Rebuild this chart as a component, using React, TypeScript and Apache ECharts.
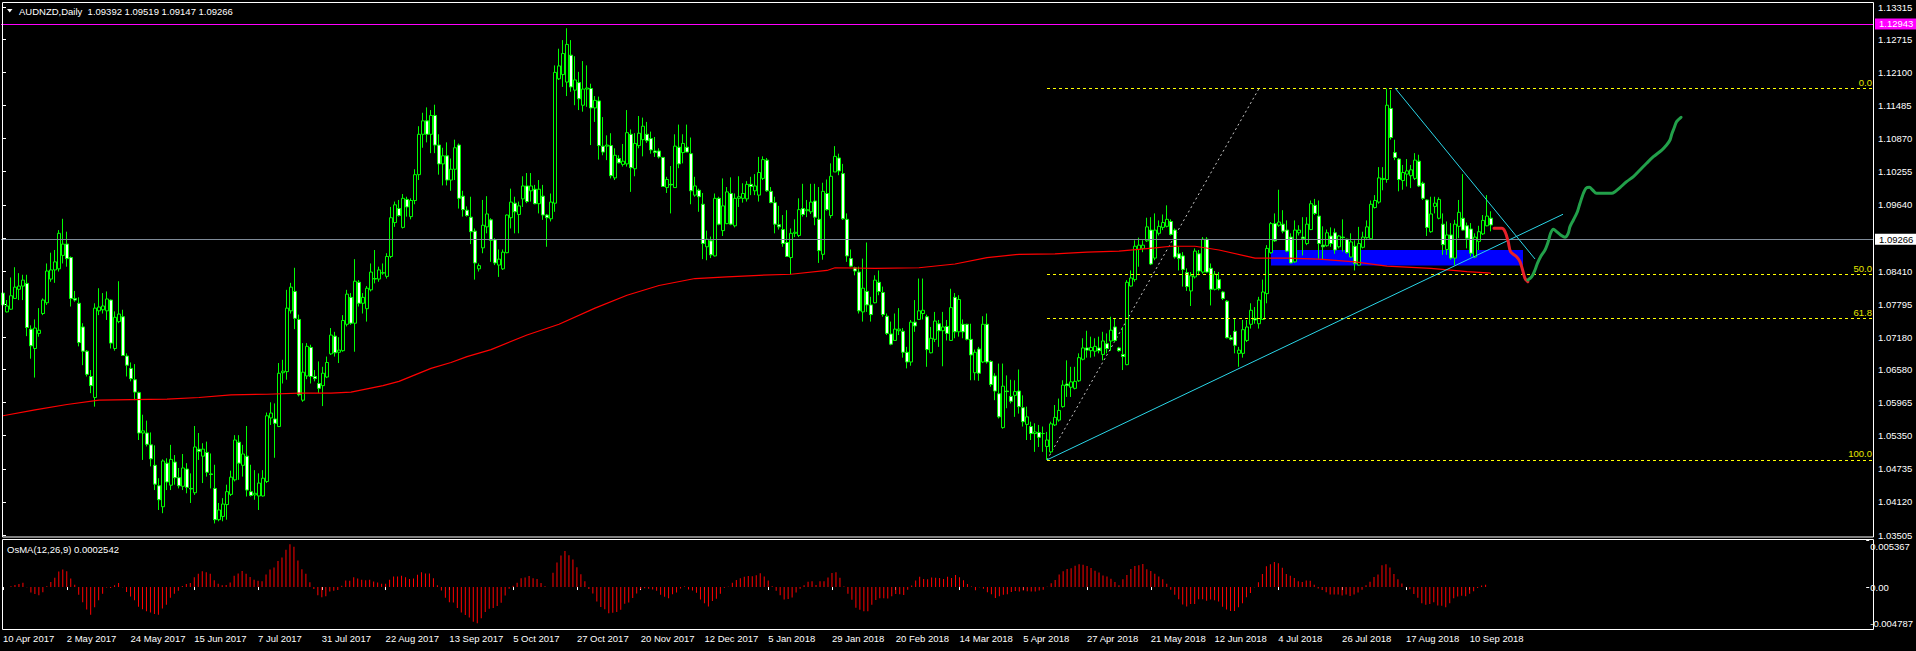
import React, { useEffect, useRef } from 'react';
import * as echarts from 'echarts';

// ---------- data (prices in units of 0.0001) ----------
const opens = [
  10800,10765,10770,10790,10807,10813,10818,10733,10697,10725,
  10762,10782,10826,10843,10845,10870,10891,10866,10790,10781,
  10737,10692,10645,10606,10767,10769,10767,10787,10697,10747,
  10756,10683,10660,10639,10615,10540,10540,10518,10480,10442,
  10403,10484,10443,10486,10457,10441,10473,10437,10429,10510,
  10497,10504,10464,10437,10379,10385,10407,10426,10453,10523,
  10480,10497,10431,10425,10423,10423,10450,10568,10566,10552,
  10652,10654,10767,10803,10751,10601,10646,10699,10645,10632,
  10628,10644,10687,10720,10690,10693,10742,10792,10744,10820,
  10781,10771,10806,10827,10826,10837,10831,10868,10931,10957,
  10922,10974,10942,10972,11020,11095,11120,11095,11130,11075,
  11040,11055,11010,11030,11075,10980,10954,10941,10915,10845,
  10884,10923,10936,10899,10852,10845,10875,10940,10967,10946,
  10975,10999,10990,10993,10966,10980,10945,10938,10967,11198,
  11206,11192,11242,11177,11191,11149,11179,11180,11144,11157,
  11073,11073,11074,11014,11050,11039,11040,11095,11031,11074,
  11085,11095,11087,11064,11064,11052,10996,11002,10996,11071,
  11061,11071,11059,10982,10991,10965,10886,10897,10869,10976,
  10916,10929,10985,10925,10976,10976,10975,11002,10990,10982,
  11013,11047,10989,10968,10927,10918,10894,10866,10911,10907,
  10957,10953,10951,10971,10937,10872,10985,10944,11025,11051,
  11022,10937,10864,10847,10839,10765,10803,10778,10782,10820,
  10801,10757,10724,10712,10730,10729,10690,10672,10746,10751,
  10762,10756,10689,10714,10743,10730,10738,10712,10792,10728,
  10742,10742,10714,10652,10696,10672,10742,10673,10646,10613,
  10550,10618,10608,10610,10618,10587,10556,10552,10539,10541,
  10539,10515,10505,10555,10564,10589,10631,10625,10623,10637,
  10677,10698,10693,10692,10698,10686,10706,10711,10737,10698,
  10686,10667,10813,10825,10881,10883,10897,10917,10865,10911,
  10922,10924,10933,10917,10873,10869,10838,10804,10830,10873,
  10839,10900,10846,10807,10825,10802,10785,10717,10729,10688,
  10688,10712,10742,10753,10743,10751,10799,10875,10929,10926,
  10928,10917,10904,10858,10912,10904,10892,10918,10963,10943,
  10889,10888,10906,10912,10886,10904,10900,10867,10887,10852,
  10885,10903,10901,10959,10969,11011,11011,11143,11061,11049,
  11009,11021,11018,11013,11045,11004,10973,10914,10961,10939,
  10928,10881,10908,10865,10924,10939,10925,10919,10867,10896,
  10910,10925,10939.2,
];
const highs = [
  10834,10787,10829,10848,10837,10834,10834,10740,10751,10772,
  10790,10855,10875,10880,10917,10938,10914,10868,10804,10792,
  10744,10694,10657,10781,10809,10800,10803,10788,10766,10822,
  10769,10688,10671,10668,10617,10574,10563,10541,10517,10456,
  10491,10493,10518,10499,10475,10501,10484,10465,10553,10540,
  10521,10524,10502,10481,10410,10419,10444,10470,10536,10536,
  10518,10553,10481,10471,10465,10471,10578,10597,10595,10670,
  10676,10806,10819,10847,10760,10707,10707,10704,10657,10673,
  10663,10682,10735,10728,10718,10759,10806,10800,10863,10824,
  10800,10813,10855,10880,10849,10855,10874,10960,10970,10973,
  10984,10979,10976,11030,11110,11135,11145,11140,11150,11095,
  11070,11080,11050,11085,11078,10990,10961,10979,10920,10855,
  10973,10980,10939,10902,10881,10881,10946,10994,10979,10970,
  11017,11023,11023,11001,11010,11001,10947,10985,11223,11254,
  11270,11292,11270,11240,11211,11231,11223,11189,11166,11165,
  11127,11093,11097,11069,11056,11077,11140,11104,11097,11129,
  11126,11118,11100,11090,11069,11053,11016,11036,11095,11113,
  11095,11113,11089,11016,10994,10986,10916,10905,10985,10979,
  11013,10997,11015,10985,11017,11004,11008,11016,11021,11053,
  11054,11051,10997,10979,10962,10945,10954,10920,10937,10976,
  11003,10973,11003,11003,10997,11005,11011,11041,11073,11059,
  11040,10948,10881,10849,10849,10864,10894,10793,10833,10842,
  10812,10762,10747,10762,10772,10735,10700,10750,10787,10827,
  10827,10760,10737,10765,10750,10765,10750,10808,10800,10796,
  10751,10743,10743,10695,10700,10757,10762,10675,10651,10669,
  10669,10647,10639,10638,10658,10610,10589,10561,10558,10555,
  10552,10542,10561,10592,10604,10638,10675,10663,10663,10688,
  10716,10730,10719,10716,10719,10728,10725,10756,10753,10700,
  10737,10824,10842,10898,10903,10898,10940,10941,10948,10935,
  10946,10963,10937,10920,10886,10876,10846,10839,10883,10880,
  10904,10904,10855,10841,10839,10804,10787,10722,10753,10700,
  10750,10750,10781,10774,10793,10825,10889,10932,10948,10992,
  10954,10935,10911,10935,10926,10941,10941,10972,10975,10972,
  10924,10918,10922,10920,10908,10937,10901,10911,10898,10923,
  10914,10935,10972,10982,11034,11034,11180,11177,11085,11051,
  11038,11049,11038,11060,11057,11007,10974,10979,10979,10978,
  10948,10933,10930,10936,10973,11021,10931,10930,10911,10925,
  10945,10982,10951.9,
];
const lows = [
  10766,10764,10769,10789,10787,10787,10720,10678,10643,10719,
  10759,10778,10821,10819,10840,10855,10849,10775,10784,10701,
  10666,10645,10614,10589,10759,10762,10750,10697,10693,10744,
  10683,10645,10636,10601,10527,10490,10515,10478,10434,10397,
  10391,10434,10434,10444,10437,10434,10428,10410,10425,10490,
  10447,10459,10437,10372,10376,10376,10379,10423,10450,10453,
  10459,10422,10422,10416,10397,10422,10447,10555,10494,10551,
  10632,10639,10762,10733,10608,10598,10640,10632,10636,10614,
  10590,10642,10685,10682,10670,10691,10738,10741,10691,10775,
  10762,10747,10803,10818,10821,10834,10827,10865,10923,10942,
  10920,10942,10937,10965,11010,11070,11080,11060,11060,11020,
  11000,11000,10990,11010,10957,10942,10942,10891,10825,10840,
  10874,10911,10858,10852,10830,10843,10874,10920,10911,10911,
  10960,10967,10970,10965,10948,10936,10886,10933,10951,11196,
  11183,11166,11174,11149,11140,11137,11146,11075,11118,11048,
  11056,11047,11013,11010,11041,11035,11035,10988,11017,11069,
  11054,11079,11059,11053,11050,10998,10986,10948,10996,11032,
  11041,11062,10965,10979,10951,10863,10861,10865,10868,10926,
  10906,10928,10926,10922,10960,10968,10970,10982,10982,10970,
  11010,10988,10967,10911,10918,10886,10868,10835,10904,10904,
  10942,10941,10947,10926,10856,10862,10953,10939,11025,11019,
  10936,10858,10848,10833,10762,10747,10765,10747,10781,10796,
  10756,10722,10703,10712,10722,10680,10660,10665,10728,10751,
  10751,10663,10688,10709,10700,10664,10712,10711,10716,10719,
  10716,10712,10638,10638,10637,10670,10669,10626,10601,10567,
  10548,10586,10595,10570,10576,10552,10527,10527,10505,10514,
  10505,10490,10502,10553,10561,10587,10607,10607,10621,10635,
  10675,10680,10680,10682,10688,10675,10688,10693,10709,10691,
  10657,10666,10812,10821,10849,10876,10895,10852,10861,10907,
  10917,10922,10907,10864,10842,10812,10804,10776,10827,10833,
  10836,10838,10777,10805,10805,10787,10716,10712,10688,10663,
  10680,10709,10734,10743,10734,10750,10781,10873,10895,10923,
  10911,10876,10855,10856,10907,10870,10889,10917,10945,10864,
  10862,10886,10886,10873,10883,10877,10873,10866,10842,10851,
  10883,10901,10899,10957,10966,10991,11005,11085,11047,10989,
  10992,10998,10995,11010,10997,10973,10906,10912,10948,10937,
  10871,10871,10862,10852,10902,10916,10883,10868,10865,10880,
  10908,10924,10914.7,
];
const closes = [
  10778,10776,10795,10811,10813,10824,10736,10702,10735,10731,
  10787,10841,10843,10858,10911,10891,10864,10790,10787,10708,
  10692,10649,10628,10772,10774,10776,10789,10707,10755,10761,
  10684,10666,10641,10616,10540,10544,10519,10492,10445,10416,
  10488,10449,10491,10457,10442,10475,10439,10436,10514,10506,
  10510,10467,10463,10379,10397,10408,10431,10458,10527,10484,
  10501,10434,10424,10428,10447,10456,10572,10577,10558,10651,
  10655,10772,10811,10753,10611,10653,10701,10645,10641,10623,
  10651,10671,10722,10689,10694,10749,10798,10744,10822,10781,
  10792,10809,10839,10826,10843,10838,10868,10940,10964,10944,
  10976,10960,10972,11020,11095,11120,11095,11130,11075,11040,
  11055,11010,11030,11070,10976,10955,10944,10914,10856,10851,
  10926,10947,10898,10856,10863,10876,10945,10969,10951,10962,
  10999,10970,10999,10966,10993,10945,10940,10969,11210,11222,
  11245,11262,11183,11196,11161,11179,11181,11144,11158,11074,
  11062,11075,11018,11056,11042,11045,11098,11033,11078,11097,
  11110,11083,11066,11061,11053,10998,11011,11001,11073,11040,
  11078,11062,10990,10999,10979,10892,10900,10871,10976,10928,
  10962,10988,10928,10976,10979,10985,11002,10998,10999,11024,
  11048,10990,10968,10928,10923,10892,10868,10911,10913,10955,
  10946,10955,10969,10941,10879,10989,10955,11017,11054,11027,
  10938,10869,10850,10841,10767,10809,10778,10760,10824,10803,
  10760,10725,10705,10733,10733,10690,10672,10746,10739,10767,
  10768,10695,10716,10748,10730,10737,10725,10773,10728,10788,
  10728,10714,10685,10690,10651,10742,10672,10630,10618,10570,
  10627,10617,10599,10617,10589,10561,10570,10539,10542,10532,
  10539,10527,10557,10569,10582,10629,10628,10635,10636,10680,
  10698,10694,10699,10701,10693,10711,10697,10731,10712,10693,
  10682,10820,10828,10887,10889,10889,10923,10854,10917,10924,
  10931,10937,10909,10867,10864,10844,10812,10832,10878,10841,
  10900,10839,10807,10835,10808,10790,10717,10714,10703,10694,
  10732,10737,10768,10750,10787,10802,10883,10929,10897,10932,
  10915,10878,10856,10917,10917,10901,10928,10966,10948,10892,
  10886,10912,10892,10880,10906,10903,10875,10895,10855,10892,
  10904,10923,10965,10972,11014,11013,11149,11089,11052,11011,
  11024,11027,11029,11047,10999,10976,10922,10947,10967,10974,
  10890,10908,10865,10928,10950,10917,10902,10874,10904,10914,
  10935,10943,10926.6,
];

// 200-period SMA: bar index -> value (0.0001 units)
const smaBars = [0,8,16,24,32,41,49,57,66,74,82,87,91,95,99,103,107,112,116,122,131,139,148,156,164,173,181,189,197,206,208,218,229,238,246,254,263,271,279,288,292,298,304,313,321,329,338,346,357,366,372];
const smaVals = [10572,10583,10593,10601,10602,10603,10606,10611,10612,10614,10614,10616,10622,10628,10636,10648,10660,10671,10682,10695,10722,10742,10772,10796,10814,10827,10830,10833,10835,10842,10847,10846,10847,10854,10866,10872,10873,10876,10878,10884,10887,10887,10880,10865,10865,10863,10858,10850,10846,10840,10837];

const priceTicks = [1.03505,1.04120,1.04735,1.05350,1.05965,1.06580,1.07180,1.07795,1.08410,1.09025,1.09640,1.10255,1.10870,1.11485,1.12100,1.12715,1.13315];
const oscTicks = [-0.004787, 0, 0.005367];
const holidays = ['2017-12-25', '2018-01-01'];
const SLOTS = 468;

const fibLowBar = 261, fibLow = 1.0490;
const fibHighBar = 314, fibHigh = 1.1180;
const fibLevels = [0, 50, 61.8, 100];
const upTrend = [[261, 1.0490], [390, 1.09464]];
const downTrend = [[348, 1.1181], [383, 1.08633]];
const zoneBars = [317, 380];
const zonePrices = [1.0880, 1.0851];
const magentaLevel = 1.12943;
const bidLevel = 1.09266;
const redPath = [[372.75,1.09203],[374.7,1.09203],[375.5,1.09141],[376.3,1.08955],[376.9,1.08769],[378.4,1.08676],[379.25,1.08583],[379.9,1.08429],[380.5,1.08275],[381.2,1.08212]];
const greenPath = [[381.2,1.08243],[382.2,1.08304],[383.0,1.08429],[383.6,1.08553],[384.4,1.08676],[385.5,1.08800],[386.3,1.08955],[386.9,1.09111],[387.6,1.09185],[388.4,1.09141],[389.4,1.09079],[390.5,1.09036],[391.3,1.09111],[391.75,1.09234],[392.6,1.09358],[393.6,1.09512],[394.25,1.09668],[395.1,1.09854],[395.75,1.09947],[396.6,1.09965],[397.4,1.09915],[398.4,1.09854],[402.2,1.09854],[403.0,1.09884],[404.25,1.09959],[405.9,1.10070],[407.6,1.10163],[409.25,1.10287],[410.9,1.10412],[412.6,1.10534],[414.7,1.10658],[415.9,1.10751],[416.75,1.10844],[417.2,1.10956],[417.75,1.11062],[418.4,1.11185],[419.5,1.11266]];

const headerText = 'AUDNZD,Daily  1.09392 1.09519 1.09147 1.09266';
const oscText = 'OsMA(12,26,9) 0.0002542';

const FONT = 'Liberation Sans, Arial, sans-serif';

function buildDates(n: number): string[] {
  const M = ['Jan','Feb','Mar','Apr','May','Jun','Jul','Aug','Sep','Oct','Nov','Dec'];
  const skip = new Set(holidays);
  const out: string[] = [];
  const d = new Date(Date.UTC(2017, 3, 10));
  while (out.length < n) {
    const wd = d.getUTCDay();
    const iso = d.toISOString().slice(0, 10);
    if (wd !== 0 && wd !== 6 && !skip.has(iso)) {
      out.push(`${d.getUTCDate()} ${M[d.getUTCMonth()]} ${d.getUTCFullYear()}`);
    }
    d.setUTCDate(d.getUTCDate() + 1);
  }
  return out;
}

function ema(src: number[], n: number): number[] {
  const k = 2 / (n + 1);
  let e = src[0];
  return src.map((v, i) => (e = i === 0 ? v : v * k + e * (1 - k)));
}

function buildOption() {
  const dates = buildDates(SLOTS);
  const lastIdx = closes.length - 1;
  const c = closes.map((v) => v / 1e4);
  const e12 = ema(c, 12);
  const e26 = ema(c, 26);
  const macd = c.map((_, i) => e12[i] - e26[i]);
  const sig = macd.map((_, i) => {
    const s = Math.max(0, i - 8);
    let sum = 0;
    for (let j = s; j <= i; j++) sum += macd[j];
    return sum / (i - s + 1);
  });
  const osma = macd.map((v, i) => v - sig[i]);

  const candles = opens.map((o, i) => [o / 1e4, closes[i] / 1e4, lows[i] / 1e4, highs[i] / 1e4]);
  const labelInterval = (i: number) => i % 16 === 0 && i <= lastIdx;

  const textStyle = { color: '#ffffff', fontSize: 9.5, fontFamily: FONT };

  return {
    animation: false,
    backgroundColor: '#000000',
    grid: [
      { left: 1, top: 7, width: 1872, height: 528 },
      { left: 1, top: 540, width: 1872, height: 89 },
    ],
    xAxis: [
      { type: 'category', gridIndex: 0, data: dates, boundaryGap: true, show: false },
      {
        type: 'category', gridIndex: 1, data: dates, boundaryGap: true,
        axisLine: { show: false },
        splitLine: { show: false },
        axisTick: { show: true, alignWithLabel: true, interval: labelInterval, length: 3, lineStyle: { color: '#ffffff' } },
        axisLabel: { show: true, interval: labelInterval, align: 'left', margin: 4, ...textStyle },
      },
      { type: 'value', gridIndex: 0, min: -0.5, max: SLOTS - 0.5, show: false },
    ],
    yAxis: [
      {
        type: 'value', gridIndex: 0, position: 'right', min: priceTicks[0], max: priceTicks[priceTicks.length - 1],
        axisLine: { show: false }, splitLine: { show: false },
        axisTick: { show: true, length: 3, customValues: priceTicks, lineStyle: { color: '#ffffff' } },
        axisLabel: { show: true, customValues: priceTicks, formatter: (v: number) => v.toFixed(5), margin: 5, ...textStyle },
      },
      {
        type: 'value', gridIndex: 1, position: 'right', min: oscTicks[0], max: oscTicks[2],
        axisLine: { show: false }, splitLine: { show: false },
        axisTick: { show: true, length: 3, customValues: oscTicks, lineStyle: { color: '#ffffff' } },
        axisLabel: {
          show: true, customValues: oscTicks, margin: 4, ...textStyle,
          formatter: (v: number) => (v === 0 ? '0.00' : v > 0 ? `{t|${v.toFixed(6)}}` : `{b|${v.toFixed(6)}}`),
          rich: {
            t: { padding: [12, 0, 0, 0], ...textStyle },
            b: { padding: [0, 0, 12, 0], ...textStyle },
          },
        },
      },
    ],
    series: [
      {
        type: 'line', name: 'zone', xAxisIndex: 2, yAxisIndex: 0, z: 1, silent: true,
        data: [[zoneBars[0], zonePrices[0]], [zoneBars[1], zonePrices[1]]],
        symbol: 'none', lineStyle: { opacity: 0, width: 0 },
        markArea: {
          silent: true,
          itemStyle: { color: '#0000ff', opacity: 1 },
          data: [[{ coord: [zoneBars[0], zonePrices[0]] }, { coord: [zoneBars[1], zonePrices[1]] }]],
        },
      },
      {
        type: 'line', name: 'fib', xAxisIndex: 2, yAxisIndex: 0, z: 2, silent: true,
        data: [[fibLowBar, fibLow], [fibHighBar, fibHigh]],
        symbol: 'none', lineStyle: { color: '#c8c8c8', width: 1, type: [2, 3] },
        markLine: {
          silent: true, symbol: ['none', 'none'],
          lineStyle: { color: '#ffff00', width: 1, type: [3, 3] },
          label: { show: true, position: 'insideEndTop', formatter: '{b}', distance: 1, color: '#e6e600', fontSize: 9.5, fontFamily: FONT },
          data: fibLevels.map((l) => {
            const p = fibHigh - ((fibHigh - fibLow) * l) / 100;
            return [{ coord: [fibLowBar, p], name: l.toFixed(1) }, { coord: [SLOTS - 0.5, p] }];
          }),
        },
      },
      {
        type: 'candlestick', name: 'AUDNZD', xAxisIndex: 0, yAxisIndex: 0, z: 3, silent: true,
        data: candles, barWidth: 3,
        itemStyle: { color: '#000000', color0: '#ffffff', borderColor: '#00ff00', borderColor0: '#00ff00', borderWidth: 1 },
        markLine: {
          silent: true, symbol: ['none', 'none'],
          data: [
            {
              yAxis: magentaLevel,
              lineStyle: { color: '#ff00ff', width: 1, type: 'solid' },
              label: { show: true, position: 'end', formatter: magentaLevel.toFixed(5), backgroundColor: '#ff00ff', color: '#ffffff', padding: [1, 6, 0, 4], distance: 2, fontSize: 9.5, fontFamily: FONT },
            },
            {
              yAxis: bidLevel,
              lineStyle: { color: '#7f8b99', width: 1, type: 'solid' },
              label: { show: true, position: 'end', formatter: bidLevel.toFixed(5), backgroundColor: '#ffffff', color: '#000000', padding: [1, 6, 0, 4], distance: 2, fontSize: 9.5, fontFamily: FONT },
            },
          ],
        },
      },
      {
        type: 'line', name: 'SMA200', xAxisIndex: 2, yAxisIndex: 0, z: 4, silent: true,
        data: smaBars.map((b, i) => [b, smaVals[i] / 1e4]),
        symbol: 'none', lineStyle: { color: '#ff0000', width: 1.2 },
      },
      {
        type: 'line', name: 'up', xAxisIndex: 2, yAxisIndex: 0, z: 5, silent: true,
        data: upTrend, symbol: 'none', lineStyle: { color: '#2ad6e8', width: 1 },
      },
      {
        type: 'line', name: 'down', xAxisIndex: 2, yAxisIndex: 0, z: 5, silent: true,
        data: downTrend, symbol: 'none', lineStyle: { color: '#2ad6e8', width: 1 },
      },
      {
        type: 'line', name: 'red', xAxisIndex: 2, yAxisIndex: 0, z: 6, silent: true,
        data: redPath, symbol: 'none', smooth: 0.3,
        lineStyle: { color: '#e8202a', width: 3, cap: 'round', join: 'round' },
      },
      {
        type: 'line', name: 'green', xAxisIndex: 2, yAxisIndex: 0, z: 6, silent: true,
        data: greenPath, symbol: 'none', smooth: 0.3,
        lineStyle: { color: '#22a04a', width: 3, cap: 'round', join: 'round' },
      },
      {
        type: 'bar', name: 'OsMA', xAxisIndex: 1, yAxisIndex: 1, silent: true,
        data: osma, barWidth: 1, itemStyle: { color: '#ff0000' },
      },
    ],
    graphic: [
      { type: 'rect', silent: true, z: 100, shape: { x: 2.5, y: 2.5, width: 1871, height: 534.5 }, style: { fill: 'none', stroke: '#ffffff', lineWidth: 1 } },
      { type: 'rect', silent: true, z: 100, shape: { x: 2.5, y: 539.5, width: 1871, height: 90 }, style: { fill: 'none', stroke: '#ffffff', lineWidth: 1 } },
      { type: 'polygon', silent: true, z: 100, shape: { points: [[7, 9], [12.5, 9], [9.75, 12.5]] }, style: { fill: '#ffffff' } },
      { type: 'text', silent: true, z: 100, x: 19, y: 11, style: { text: headerText, fill: '#ffffff', fontSize: 9.5, fontFamily: FONT, verticalAlign: 'middle' } },
      { type: 'text', silent: true, z: 100, x: 7, y: 549, style: { text: oscText, fill: '#ffffff', fontSize: 9.5, fontFamily: FONT, verticalAlign: 'middle' } },
    ],
  };
}

export default function App() {
  const ref = useRef<HTMLDivElement>(null);
  useEffect(() => {
    document.body.style.margin = '0';
    document.body.style.background = '#000000';
    const chart = echarts.init(ref.current as HTMLDivElement, null, { renderer: 'svg' });
    chart.setOption(buildOption() as any);
    return () => chart.dispose();
  }, []);
  return <div ref={ref} style={{ position: 'absolute', left: 0, top: 0, width: 1916, height: 651 }} />;
}
